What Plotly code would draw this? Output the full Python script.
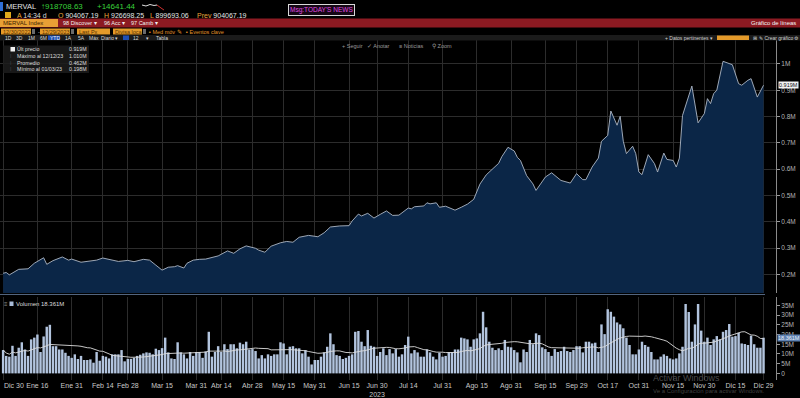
import numpy as np
import pandas as pd
import plotly.graph_objects as go

# ---------------- data ----------------
START_DATE = "2022-12-30"
END_DATE = "2023-12-29"
HOLIDAYS = ["2023-02-20", "2023-02-21", "2023-03-24", "2023-04-06", "2023-04-07",
            "2023-05-01", "2023-05-25", "2023-05-26", "2023-06-19", "2023-06-20",
            "2023-08-21", "2023-10-13", "2023-10-16", "2023-11-20", "2023-12-08",
            "2023-12-25"]

# price readings: trading-day number -> price in millions of points
PRICE_DAY = [0, 1, 2, 5, 8, 10, 13, 14, 16, 17, 19, 21, 22, 25, 28, 30, 32, 34, 37, 40,
             42, 45, 47, 49, 51, 53, 55, 56, 58, 59, 61, 63, 65, 69, 72, 74, 76, 78, 81, 82,
             84, 86, 89, 91, 93, 95, 98, 101, 103, 105, 108, 111, 112, 114, 115, 117, 119, 121, 123, 125,
             127, 130, 131, 132, 135, 136, 137, 139, 140, 142, 145, 147, 149, 151, 153, 155, 156, 158, 159, 160,
             162, 164, 165, 166, 167, 168, 170, 171, 174, 176, 179, 182, 184, 186, 187, 189, 191, 192, 194, 195,
             197, 198, 199, 200, 202, 203, 204, 205, 207, 209, 210, 212, 213, 215, 216, 217, 218, 221, 223, 225,
             226, 227, 228, 229, 231, 234, 236, 237, 239, 240, 242, 244]
PRICE_M = [0.204, 0.207, 0.198, 0.219, 0.221, 0.242, 0.263, 0.238, 0.252, 0.257, 0.266, 0.254, 0.258, 0.246, 0.252, 0.254, 0.262, 0.257, 0.249, 0.253,
           0.248, 0.257, 0.254, 0.235, 0.216, 0.227, 0.229, 0.233, 0.224, 0.242, 0.254, 0.257, 0.258, 0.270, 0.289, 0.280, 0.297, 0.308, 0.299, 0.292,
           0.284, 0.307, 0.320, 0.325, 0.322, 0.341, 0.348, 0.343, 0.358, 0.380, 0.384, 0.385, 0.403, 0.429, 0.422, 0.432, 0.414, 0.428, 0.441, 0.424,
           0.425, 0.452, 0.449, 0.457, 0.460, 0.472, 0.468, 0.472, 0.455, 0.459, 0.444, 0.455, 0.467, 0.485, 0.543, 0.578, 0.590, 0.614, 0.622, 0.647,
           0.683, 0.669, 0.645, 0.633, 0.600, 0.575, 0.544, 0.519, 0.570, 0.586, 0.557, 0.547, 0.583, 0.560, 0.560, 0.608, 0.642, 0.706, 0.728, 0.821,
           0.767, 0.801, 0.706, 0.659, 0.687, 0.659, 0.589, 0.579, 0.655, 0.621, 0.589, 0.661, 0.637, 0.633, 0.608, 0.642, 0.804, 0.916, 0.776, 0.811,
           0.868, 0.849, 0.887, 0.900, 1.010, 0.997, 0.925, 0.919, 0.938, 0.944, 0.874, 0.919]

# daily volume, millions
VOLUME_M = [12, 9, 8.6, 14.2, 9, 13.2, 16, 12.3, 9, 17.5,
            18.4, 20, 11, 19, 24, 25, 14, 14, 12.3, 12.3,
            10.6, 9, 8, 9.8, 7.4, 9, 6.9, 6.9, 7.2, 5.5,
            11, 6.5, 9, 8.6, 7.7, 9.8, 9.8, 9.8, 12, 6.2,
            7.5, 7.5, 8, 9, 9.6, 10.3, 10.8, 10.6, 9.8, 12.7,
            12, 13, 18.4, 10.8, 7.7, 7.4, 16, 10.8, 9.8, 7.7,
            11, 9, 11, 11, 8, 11.3, 21.4, 8.6, 11, 14,
            11, 15, 12.5, 15, 15, 12.9, 15.8, 15, 16.3, 12.3,
            12.5, 11.5, 7.7, 9.4, 7.7, 9.8, 9, 9.8, 9.8, 16,
            15.4, 9.8, 13.7, 14, 12.9, 12.9, 10.3, 12, 8.6, 4.6,
            6.9, 6.9, 8.6, 10.8, 13.7, 20.6, 15, 9.4, 9, 7.4,
            8, 9, 9.8, 21.4, 21.8, 16.3, 14, 22.3, 14.2, 13.7,
            9, 11, 12.9, 9.4, 12.5, 10.3, 12.5, 8.6,
            9.8, 14.6, 18.9, 10.3, 12, 10.8, 8.6, 8.6, 12.3, 10.8,
            8.6, 7.2, 10.6, 8.6, 9, 11, 11, 12.3, 12.3, 18.4,
            18, 17.5, 13.7, 17.5, 18, 20.6, 31.7, 23.7, 16.3, 13.2,
            12, 12.9, 12, 17.2, 13.7, 13.4, 12, 10.8, 5.7, 12.3,
            11, 17.2, 15, 20.6, 19.7, 13.4, 12.5, 11, 9, 12.5,
            11, 11.5, 13.7, 11.5, 11, 12, 14, 14, 10.8, 16.3,
            16.3, 15.4, 15.8, 11, 25.2, 20.2, 33, 31.7, 29.2, 26.2,
            25.2, 23.2, 18.4, 14.6, 9.8, 9.8, 12.3, 16.3, 14.6, 13.7,
            11, 7.2, 7.2, 8.6, 9.8, 9, 7.7, 7.2, 7.7, 10.3,
            13.7, 35.7, 31.6, 16.3, 25.2, 35.7, 22, 16.3, 18.4, 14.6,
            17.5, 19.2, 17.5, 21.4, 22.3, 25.4, 18.9, 19.2, 20.9, 15.4,
            15.1, 14.6, 19.4, 15, 13.2, 13.2, 18.361]
MA_WINDOW = 20

TICK_DATES = ["2022-12-30", "2023-01-16", "2023-01-31", "2023-02-14", "2023-02-28", "2023-03-15",
              "2023-03-31", "2023-04-14", "2023-04-28", "2023-05-15", "2023-05-31", "2023-06-15",
              "2023-06-30", "2023-07-14", "2023-07-31", "2023-08-15", "2023-08-31", "2023-09-15",
              "2023-09-29", "2023-10-17", "2023-10-31", "2023-11-15", "2023-11-30", "2023-12-15",
              "2023-12-29"]
TICK_LABELS = ["Dic 30", "Ene 16", "Ene 31", "Feb 14", "Feb 28", "Mar 15", "Mar 31",
               "Abr 14", "Abr 28", "May 15", "May 31", "Jun 15", "Jun 30<br>2023", "Jul 14",
               "Jul 31", "Ago 15", "Ago 31", "Sep 15", "Sep 29", "Oct 17", "Oct 31", "Nov 15",
               "Nov 30", "Dic 15", "Dic 29"]

PRICE_TICKS = [0.2, 0.3, 0.4, 0.5, 0.6, 0.7, 0.8, 0.9, 1.0]
PRICE_TICK_LABELS = ["0.2M", "0.3M", "0.4M", "0.5M", "0.6M", "0.7M", "0.8M", "0.9M", "1M"]
VOL_TICKS = [0, 5, 10, 15, 20, 25, 30, 35]
VOL_TICK_LABELS = ["0", "5M", "10M", "15M", "20M", "25M", "30M", "35M"]

LEGEND_ROWS = [("Últ precio", "0.919M"), ("Máximo al 12/12/23", "1.010M"),
               ("Promedio", "0.462M"), ("Mínimo al 01/03/23", "0.198M")]
LAST_PRICE_LABEL = "0.919M"
LAST_VOLUME_LABEL = "18.361M"

# ---------------- derived ----------------
days = [d for d in pd.bdate_range(START_DATE, END_DATE) if d.strftime("%Y-%m-%d") not in HOLIDAYS]
n = len(VOLUME_M)
day_idx = np.arange(n)


def day_of(date_str):
    t = pd.Timestamp(date_str)
    for i, d in enumerate(days[:n]):
        if d >= t:
            return i
    return n - 1


tick_vals = [day_of(s) for s in TICK_DATES]
vol_ma = pd.Series(VOLUME_M).rolling(MA_WINDOW, min_periods=1).mean()

# ---------------- figure ----------------
W, H = 800, 398
ML, MR, MT, MB = 0, 24, 40, 18
PW, PH = W - ML - MR, H - MT - MB
FONT = "Liberation Sans, Arial, sans-serif"


def PX(px):
    return (px - ML) / PW


def PY(py):
    return (H - MB - py) / PH


fig = go.Figure()
fig.add_trace(go.Scatter(x=PRICE_DAY, y=PRICE_M, mode="lines",
                         line=dict(color="#aeb8c6", width=0.9),
                         fill="tozeroy", fillcolor="#0b2647",
                         xaxis="x", yaxis="y", hoverinfo="skip"))
fig.add_trace(go.Bar(x=day_idx, y=VOLUME_M, marker=dict(color="#b2c4de", line=dict(width=0)),
                     xaxis="x2", yaxis="y2", hoverinfo="skip"))
fig.add_trace(go.Scatter(x=day_idx, y=vol_ma, mode="lines", line=dict(color="#dcdcdc", width=0.9),
                         xaxis="x2", yaxis="y2", hoverinfo="skip"))

xr = [-1.0, 248.0]
grid = "#2c2c2c"
price_bottom = PY(293)
vol_top = PY(297)

axis_common = dict(range=xr, tickmode="array", tickvals=tick_vals, showgrid=True,
                   gridcolor=grid, gridwidth=1, zeroline=False, ticks="", fixedrange=True)

# the first tick label sits at the left edge; it is drawn as an annotation instead
x2_labels = [""] + TICK_LABELS[1:]

fig.update_layout(
    width=W, height=H,
    margin=dict(l=ML, r=MR, t=MT, b=MB),
    paper_bgcolor="#000000", plot_bgcolor="#000000",
    showlegend=False, bargap=0.22,
    font=dict(family=FONT, color="#cfcfcf", size=7),
    xaxis=dict(domain=[0, 1], anchor="y", showticklabels=False, **axis_common),
    xaxis2=dict(domain=[0, 1], anchor="y2", showticklabels=True, ticktext=x2_labels,
                tickfont=dict(size=7, color="#c8c8c8"), **axis_common),
    yaxis=dict(domain=[price_bottom, 1], range=[0.129, 1.091], side="right",
               tickmode="array", tickvals=PRICE_TICKS, ticktext=PRICE_TICK_LABELS,
               showgrid=True, gridcolor=grid, zeroline=False, ticks="outside", ticklen=3,
               tickcolor="#9a9a9a", showline=True, linecolor="#8a8a8a", linewidth=1,
               tickfont=dict(size=6.5, color="#b4b4b4"), fixedrange=True),
    yaxis2=dict(domain=[0, vol_top], range=[-3.4, 39.3], side="right",
                tickmode="array", tickvals=VOL_TICKS, ticktext=VOL_TICK_LABELS,
                showgrid=False, zeroline=False, ticks="outside", ticklen=3,
                tickcolor="#9a9a9a", showline=True, linecolor="#8a8a8a", linewidth=1,
                tickfont=dict(size=6.5, color="#b4b4b4"), fixedrange=True),
)

shapes = []
annots = []


def rect(x0, y0, x1, y1, color, line=None):
    shapes.append(dict(type="rect", xref="paper", yref="paper", x0=PX(x0), x1=PX(x1),
                       y0=PY(y1), y1=PY(y0), fillcolor=color,
                       line=dict(width=0) if line is None else dict(color=line, width=1),
                       layer="above"))


def text(t, x, y, size=7, color="#dcdcdc", anchor="left", bg=None, border=None, pad=0):
    d = dict(text=t, x=PX(x), y=PY(y), xref="paper", yref="paper", xanchor=anchor,
             yanchor="middle", showarrow=False, font=dict(size=size, color=color, family=FONT),
             borderpad=pad)
    if bg:
        d["bgcolor"] = bg
    if border:
        d["bordercolor"] = border
        d["borderwidth"] = 1
    annots.append(d)


# --- header row 1
rect(0, 2, 3, 11, "#2f6fd6")
text("MERVAL", 5, 7, size=7.5, color="#e2e2e2")
text("↑918708.63", 40, 7, size=8, color="#39d13a")
text("+14641.44", 96, 7, size=8, color="#39d13a")
shapes.append(dict(type="path", xref="paper", yref="paper",
                   path="M {:.4f},{:.4f} L {:.4f},{:.4f} L {:.4f},{:.4f} L {:.4f},{:.4f} L {:.4f},{:.4f}".format(
                       PX(142), PY(5), PX(146), PY(6), PX(150), PY(4.5), PX(154), PY(5.5), PX(157), PY(5)),
                   line=dict(color="#e0e0e0", width=1)))
shapes.append(dict(type="path", xref="paper", yref="paper",
                   path="M {:.4f},{:.4f} L {:.4f},{:.4f} L {:.4f},{:.4f}".format(
                       PX(157), PY(5), PX(161), PY(8), PX(164), PY(10)),
                   line=dict(color="#d03030", width=1)))
text("Msg:TODAY'S NEWS", 288, 9.5, size=6.5, color="#e04ae0", bg="#150815", border="#d8d8d8", pad=1)

# --- header row 2
rect(5, 12, 11, 18, "#e0a81c")
O = '<span style="color:#e8a33a">{}</span>'
text(O.format("A") + " 14:34 d", 16, 15.5, size=7, color="#d8d8d8")
text(O.format("O") + " 904067.19", 57, 15.5, size=7, color="#e6e6e6")
text(O.format("H") + " 926698.25", 103, 15.5, size=7, color="#e6e6e6")
text(O.format("L") + " 899693.06", 149, 15.5, size=7, color="#e6e6e6")
text(O.format("Prev") + " 904067.19", 196, 15.5, size=7, color="#e6e6e6")

# --- red function bar
rect(0, 18.5, 800, 27.5, "#8c1a22")
rect(0, 19, 58, 27, "#e9a035")
text("MERVAL Index", 2, 23, size=6, color="#3a2200")
text("98 Discover ▾", 62, 23, size=5.5, color="#f0f0f0")
text("96 Acc ▾", 103, 23, size=5.5, color="#f0f0f0")
text("97 Camb ▾", 130, 23, size=5.5, color="#f0f0f0")
text("Gráfico de líneas", 797, 23, size=6, color="#f4f4f4", anchor="right")

# --- date / field row
rect(1, 28.5, 31, 34.5, "#e49a2a")
text("12/30/2022", 2, 31.5, size=5.5, color="#5a3300")
rect(32, 29, 35, 34, "#6a6a6a")
text("-", 37, 31.5, size=5.5, color="#d0d0d0")
rect(40, 28.5, 70, 34.5, "#e49a2a")
text("12/29/2023", 41, 31.5, size=5.5, color="#5a3300")
rect(71, 29, 74, 34, "#6a6a6a")
rect(77, 28.5, 110, 34.5, "#e49a2a")
text("Last Px", 78, 31.5, size=5.5, color="#5a3300")
rect(113, 28.5, 142, 34.5, "#e49a2a")
text("Divisa loca", 114, 31.5, size=5.5, color="#5a3300")
rect(143, 29, 146, 34, "#6a6a6a")
text("▪ Med móv ✎", 148, 31.5, size=5.5, color="#e0952a")
text("▪ Eventos clave", 185, 31.5, size=5.5, color="#e0952a")

# --- toolbar row
rect(0, 35, 800, 40.5, "#1b1b1b")
for lab, x in [("1D", 4), ("3D", 15), ("1M", 27), ("6M", 39), ("1A", 64), ("5A", 77), ("Máx", 88),
               ("Diario ▾", 100), ("12", 132), ("▾", 145), ("Tabla", 155)]:
    text(lab, x, 37.8, size=5, color="#d8d8d8")
rect(48, 35.5, 60, 40, "#1f4fb4")
text("YTD", 49, 37.8, size=5, color="#f0f0f0")
rect(123, 35.5, 129, 40, "#1f4fb4")
text("+ Datos pertinentes ▾", 664, 37.8, size=5, color="#d0d0d0")
rect(717, 35.5, 749, 40, "#e49a2a")
text("⊞", 752, 37.8, size=5, color="#d0d0d0")
text("✎ Crear gráfico", 758, 37.8, size=5, color="#d0d0d0")
text("⚙", 793, 37.8, size=5, color="#d0d0d0")

# --- chart tools row
text("+ Seguir", 341, 45.5, size=5.5, color="#9a9a9a")
text("✓ Anotar", 366, 45.5, size=5.5, color="#9a9a9a")
text("≡ Noticias", 398, 45.5, size=5.5, color="#9a9a9a")
text("⚲ Zoom", 431, 45.5, size=5.5, color="#9a9a9a")

# --- legend box
rect(3, 45.5, 89, 73, "rgba(28,28,28,0.85)")
rect(10.5, 47, 15, 51.5, "#f2f2f2")
ys = [49.3, 56, 62.7, 69.3]
for (lab, val), yy in zip(LEGEND_ROWS, ys):
    text(lab, 16, yy, size=5.3, color="#dedede")
    text(val, 88, yy, size=5.3, color="#dedede", anchor="right")
for yy in ys[1:]:
    text("⁞", 9, yy, size=5, color="#777777")

# --- panel separator
shapes.append(dict(type="line", xref="paper", yref="paper", x0=PX(0), x1=PX(765),
                   y0=PY(294.5), y1=PY(294.5), line=dict(color="#52657f", width=1.2)))

# --- volume legend
text("≡", 3, 304, size=6, color="#9a9a9a")
rect(9.5, 301.5, 13.5, 306, "#a9bcd8")
text("Volumen 18.361M", 15, 304, size=6, color="#dedede")

# --- first x tick label (left edge)
text(TICK_LABELS[0], 3, 385.5, size=7, color="#c8c8c8")

# --- value markers on the right axis
annots.append(dict(text=LAST_PRICE_LABEL, x=1.0, y=PRICE_M[-1], xref="paper", yref="y",
                   xanchor="left", yanchor="middle", xshift=2, showarrow=False,
                   font=dict(size=5.5, color="#111111", family=FONT), bgcolor="#f2f2f2", borderpad=0))
annots.append(dict(text=LAST_VOLUME_LABEL, x=1.0, y=VOLUME_M[-1], xref="paper", yref="y2",
                   xanchor="left", yanchor="middle", xshift=1, showarrow=False,
                   font=dict(size=5.5, color="#e9eef6", family=FONT), bgcolor="#5f82b2", borderpad=0))

# --- OS watermark
text("Activar Windows", 652, 378, size=9, color="rgba(150,150,150,0.5)")
text("Ve a Configuración para activar Windows.", 652, 391, size=6, color="rgba(150,150,150,0.45)")

fig.update_layout(shapes=shapes, annotations=annots)
fig.write_html("out.html", config={"displayModeBar": False},
               post_script="document.body.style.margin='0';document.body.style.background='#000';")
